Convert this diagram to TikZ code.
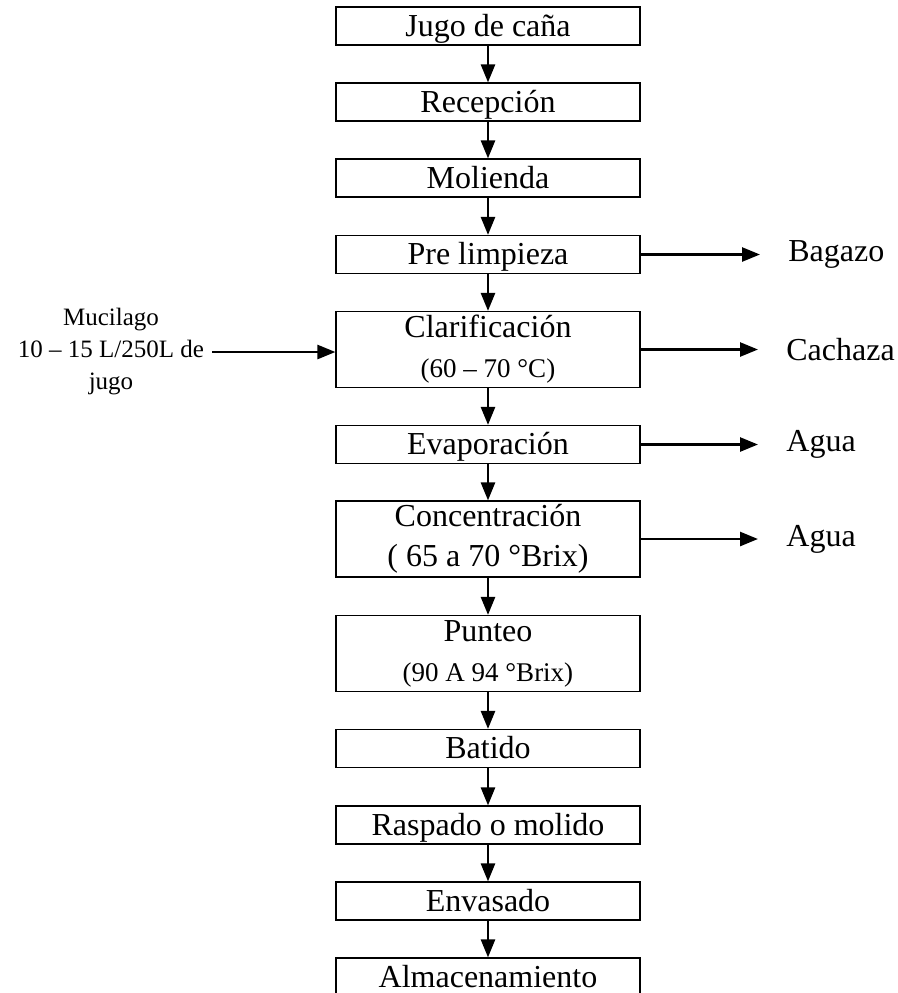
\documentclass[tikz,border=0pt]{standalone}
\usepackage{fontspec}
\setmainfont{Liberation Serif}
\usetikzlibrary{arrows.meta}

\tikzset{
  stepbox/.style={draw, line width=0.6pt, minimum width=152pt, minimum height=19pt,
    inner sep=0pt, align=center, font=\fontsize{16}{20}\selectfont},
  onebox/.style={stepbox, text height=12pt, text depth=2pt},
  tallbox/.style={stepbox, minimum height=38pt, text height={}, text depth={}},
  outlabel/.style={anchor=west, inner sep=0pt, font=\fontsize{16}{20}\selectfont},
  flow/.style={-{Triangle[length=9pt,width=7pt]}, line width=1.3pt},
}
\newcommand{\subtxt}[1]{{\fontsize{13.5}{20}\selectfont #1}}

\begin{document}
\begin{tikzpicture}[x=0.5pt,y=-0.5pt]
    \clip (0,0) rectangle (898,993);

    \begin{scope}[every node/.style={onebox}]
      \node (jugo) at (488,26) {Jugo de caña};
      \node (recep) at (488,102) {Recepción};
      \node (molie) at (488,178) {Molienda};
      \node (prelim) at (488,254.5) {Pre limpieza};
      \node [tallbox] (clarif) at (488,349.5) {Clarificación\\ \subtxt{(60 – 70 °C)}};
      \node (evap) at (488,444.5) {Evaporación};
      \node [tallbox] (concen) at (488,539) {Concentración\\( 65 a 70 °Brix)};
      \node [tallbox] (punteo) at (488,653.5) {Punteo\\ \subtxt{(90 A 94 °Brix)}};
      \node (batido) at (488,748.5) {Batido};
      \node (raspado) at (488,825) {Raspado o molido};
      \node (envas) at (488,901) {Envasado};
      \node (almac) at (488,977) {Almacenamiento};
    \end{scope}

    \node [align=center, inner sep=4pt, font=\fontsize{12.5}{16}\selectfont] (mucil) at (111,352) {Mucilago\\10 – 15 L/250L de\\jugo};

    \node [outlabel] (bagazo) at (788,254.5) {Bagazo};
    \node [outlabel] (cachaza) at (786,349.5) {Cachaza};
    \node [outlabel] (agua1) at (786,444.5) {Agua};
    \node [outlabel] (agua2) at (786,539) {Agua};

    \draw [flow] (jugo) edge (recep);
    \draw [flow] (recep) edge (molie);
    \draw [flow] (molie) edge (prelim);
    \draw [flow] (prelim) edge (clarif);
    \draw [flow] (clarif) edge (evap);
    \draw [flow] (evap) edge (concen);
    \draw [flow] (concen) edge (punteo);
    \draw [flow] (punteo) edge (batido);
    \draw [flow] (batido) edge (raspado);
    \draw [flow] (raspado) edge (envas);
    \draw [flow] (envas) edge (almac);

    \draw [flow] (mucil.east) -- (mucil.east -| clarif.west);
    \draw [flow, shorten >=14pt] (prelim.east) -- (bagazo.west);
    \draw [flow, shorten >=14pt] (clarif.east) -- (cachaza.west);
    \draw [flow, shorten >=14pt] (evap.east) -- (agua1.west);
    \draw [flow, shorten >=14pt] (concen.east) -- (agua2.west);
  \end{tikzpicture}
\end{document}
